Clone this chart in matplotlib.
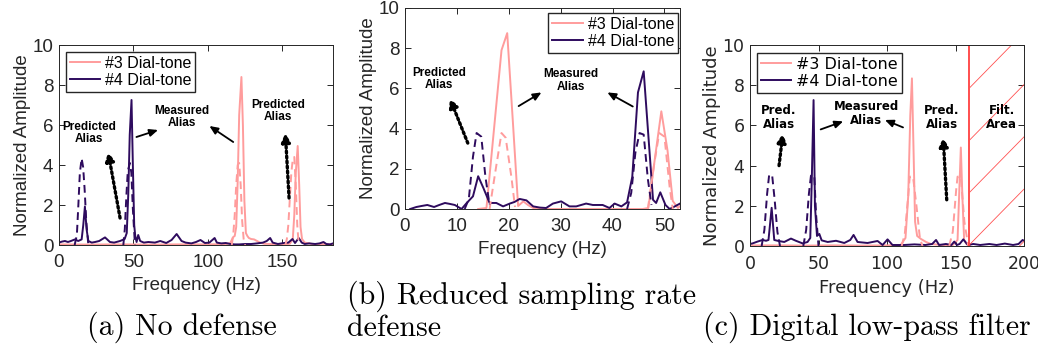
import numpy as np
import matplotlib
matplotlib.use("Agg")
import matplotlib.pyplot as plt

nan = np.nan

# ---- (a) No defense ----
a_f4 = [0, 2, 4, 6, 8, 10.7, 12.9, 15.2, 16.3, 17.4, 18.5, 19.7, 22, 24.2, 27,
        30.9, 34.2, 37, 41, 44.1, 45.5, 46.5, 47.5, 48.7, 49.6, 50.5, 51.2, 52.1,
        53.2, 54.5, 57, 60, 64.4, 68, 72, 75.6, 79, 82.3, 85, 88.9, 92, 95, 98,
        101, 104.5, 106, 109, 112, 115, 118, 121, 125, 129, 133, 137, 139.5,
        141.8, 143.5, 147, 151, 154, 156.8, 158.5, 161, 163, 165, 168, 172, 175,
        177.6, 179.5, 182, 184]
a_y4 = [0.12, 0.17, 0.2, 0.15, 0.2, 0.28, 0.2, 0.28, 1.0, 1.92, 0.8, 0.2, 0.12,
        0.15, 0.2, 0.38, 0.15, 0.12, 0.2, 0.3, 0.6, 2.5, 5.5, 7.25, 4.0, 1.0,
        0.45, 0.15, 0.5, 0.2, 0.12, 0.15, 0.12, 0.2, 0.1, 0.25, 0.55, 0.2, 0.12,
        0.08, 0.15, 0.25, 0.1, 0.12, 0.35, 0.12, 0.08, 0.1, 0.05, 0.03, 0.03,
        0.05, 0.05, 0.08, 0.12, 0.2, 0.35, 0.12, 0.05, 0.1, 0.12, 0.3, 0.1, 0.35,
        0.12, 0.05, 0.08, 0.05, 0.08, 0.15, 0.05, 0.03, 0.08]
a_f4d = [10.5, 12, 13, 14, 15.2, 16.2, 17.2, 18.3, 19.7, nan,
         43.2, 44.2, 45.2, 46.2, 47.6, 48.6, 49.6, 51]
a_y4d = [0, 0.5, 2.0, 3.6, 4.33, 3.9, 2.8, 1.2, 0, nan,
         0, 0.8, 2.4, 3.7, 4.1, 3.6, 1.8, 0]
a_f3 = [0, 20, 40, 60, 80, 100, 112, 115, 116, 117, 118, 119, 120, 121, 122.5,
        123.5, 124.5, 125.5, 126.5, 127.5, 129, 131, 133, 135, 138, 145, 152,
        155, 157, 158, 159, 160.3, 161.3, 162.2, 163.2, 165, 170, 178, 184]
a_y3 = [0.03, 0.02, 0.03, 0.02, 0.03, 0.03, 0.04, 0.1, 0.25, 0.4, 0.45, 0.9,
        3.2, 6.5, 8.4, 6.0, 2.2, 0.6, 0.45, 0.35, 0.3, 0.28, 0.2, 0.12, 0.06,
        0.04, 0.04, 0.06, 0.3, 1.5, 3.6, 4.95, 3.0, 0.9, 0.3, 0.12, 0.05, 0.04,
        0.03]
a_f3d = [116, 117, 118, 119, 120, 121, 122, 123, 124, 125, nan,
         152, 153, 154, 155, 156, 157, 158, 159, 160, 161]
a_y3d = [0, 0.5, 1.5, 3.0, 4.0, 4.1, 3.0, 1.2, 0.3, 0, nan,
         0, 0.3, 1.0, 2.3, 3.6, 4.3, 4.4, 3.0, 1.0, 0]

# ---- (b) Reduced sampling rate defense ----
b_f4 = [1.0, 2.2, 3.2, 4.3, 5.6, 6.6, 7.7, 8.7, 9.6, 10.9, 11.9, 13.1, 14.1,
        15.1, 16.3, 17.6, 18.9, 20.2, 21.1, 22.1, 23.4, 24.7, 26.0, 27.2, 28.5,
        30.1, 31.7, 33.0, 34.9, 36.2, 38.1, 39.4, 40.4, 41.7, 42.8, 43.8, 44.9,
        46.0, 47.8, 48.4, 49.2, 50.2, 51.0, 52.0, 53.0]
b_y4 = [0.0, 0.1, 0.15, 0.2, 0.1, 0.2, 0.3, 0.25, 0.2, 0.0, 0.3, 0.63, 1.63,
        1.05, 0.3, 0.3, 0.13, 0.27, 0.35, 0.5, 0.43, 0.13, 0.07, 0.05, 0.27,
        0.38, 0.13, 0.13, 0.27, 0.2, 0.2, 0.05, 0.27, 0.13, 0.33, 1.6, 5.8,
        6.85, 0.46, 0.3, 0.83, 0.2, 0.0, 0.13, 0.27]
b_f4d = [11.5, 12.3, 13.1, 13.8, 14.7, 15.5, 16.3, nan,
         42.8, 43.6, 44.4, 45.2, 46.0, 46.8, 47.5]
b_y4d = [0.0, 0.5, 2.6, 3.78, 3.6, 1.6, 0.2, nan,
         0.0, 0.8, 2.8, 3.78, 3.7, 1.5, 0.2]
b_f3 = [14.1, 15.7, 17.2, 18.6, 19.7, 20.8, 21.8, 22.8, 23.7, 24.7, 26.0,
        44.7, 45.8, 46.9, 48.1, 49.4, 50.6, 51.6, 52.6, 53.0]
b_y3 = [0.0, 0.05, 4.1, 7.9, 8.75, 4.3, 0.15, 0.38, 0.2, 0.05, 0.0,
        0.0, 0.0, 0.05, 2.4, 4.86, 2.9, 0.4, 0.05, 0.15]
b_f3d = [16.3, 17.5, 18.6, 19.4, 20.5, 21.2, nan,
         46.8, 48.0, 49.0, 50.0, 51.0, 51.6]
b_y3d = [0.0, 2.0, 3.78, 3.55, 1.6, 0.1, nan,
         0.0, 2.2, 3.78, 3.6, 1.1, 0.0]

# ---- (c) Digital low-pass filter ----
c_f4 = [0, 1.9, 5.5, 9.2, 11.7, 13.5, 15.8, 17.7, 20.1, 25.0, 29.9, 33.5, 38.4,
        42.0, 44.0, 45.0, 46.4, 47.4, 48.9, 50.6, 52.3, 56.7, 62.8, 68.8, 73.2,
        75.6, 78.5, 85.8, 93.1, 96.8, 100.4, 104, 112.5, 120, 128, 133, 135.8,
        138, 143, 147, 149.1, 151, 153, 155.7, 159, 163, 168, 174.7, 180, 186,
        192, 196, 199, 200]
c_y4 = [0.1, 0.13, 0.22, 0.3, 0.26, 0.3, 1.9, 0.3, 0.26, 0.2, 0.37, 0.26, 0.13,
        0.2, 0.4, 3.0, 7.26, 2.0, 0.5, 0.6, 0.28, 0.2, 0.26, 0.15, 0.3, 0.55,
        0.2, 0.15, 0.25, 0.05, 0.33, 0.05, 0.05, 0.08, 0.05, 0.1, 0.3, 0.05,
        0.1, 0.05, 0.22, 0.05, 0.1, 0.33, 0.05, 0.1, 0.05, 0.1, 0.05, 0.12,
        0.05, 0.1, 0.3, 0.25]
c_f4d = [8.5, 10.5, 12.5, 14.0, 16.2, 18.0, 20.0, 21.9, nan,
         38.9, 41, 43, 44.5, 46.9, 48.3, 50.0]
c_y4d = [0.0, 0.8, 2.6, 3.55, 3.5, 2.3, 0.7, 0.0, nan,
         0.0, 0.8, 2.6, 3.5, 3.5, 1.5, 0.0]
c_f3 = [0, 20, 40, 60, 80, 100, 110, 113.5, 115.5, 117, 118.2, 119.3, 120.5,
        122.0, 124.8, 128.5, 132, 140, 148, 151.5, 152.8, 153.9, 155.0, 156.3,
        158, 160.5]
c_y3 = [0.03, 0.03, 0.02, 0.03, 0.02, 0.03, 0.05, 0.4, 2.5, 6.5, 8.34, 5.0,
        1.2, 0.5, 0.35, 0.2, 0.1, 0.05, 0.05, 0.3, 2.8, 4.9, 2.5, 0.3, 0.1,
        0.05]
c_f3d = [110.7, 113, 115.5, 116.6, 119.0, 121.5, 124.0, 125.9, nan,
         145.4, 148, 150.5, 151.5, 153.9, 156.5, 159.3]
c_y3d = [0.0, 0.6, 2.5, 3.45, 3.45, 2.0, 0.4, 0.0, nan,
         0.0, 0.7, 2.8, 3.45, 3.45, 1.2, 0.0]
cutoff = 160

PINK = '#FF9C9C'
PURPLE = '#2E0B5E'
DARK = '#262626'

fig = plt.figure(figsize=(10.38, 3.47), dpi=100)


def panel(rect, xlim, xticks, font, tsize, lsize,
          f4, y4, f4d, y4d, f3, y3, f3d, y3d):
    ax = fig.add_axes(rect)
    ax.plot(f3, y3, color=PINK, lw=1.4, label='#3 Dial-tone')
    ax.plot(f4, y4, color=PURPLE, lw=1.4, label='#4 Dial-tone')
    ax.plot(f3d, y3d, color=PINK, lw=1.4, ls=(0, (4, 2.5)))
    ax.plot(f4d, y4d, color=PURPLE, lw=1.4, ls=(0, (4, 2.5)))
    ax.set_xlim(*xlim)
    ax.set_ylim(0, 10)
    ax.set_xticks(xticks)
    ax.set_yticks([0, 2, 4, 6, 8, 10])
    ax.tick_params(direction='in', top=True, right=True, length=4,
                   width=0.7, colors=DARK, labelsize=tsize)
    ax.tick_params(axis='x', pad=6.5)
    ax.tick_params(axis='y', pad=4)
    for lab in ax.get_xticklabels() + ax.get_yticklabels():
        lab.set_family(font)
    for s in ax.spines.values():
        s.set_linewidth(0.7)
        s.set_color(DARK)
    ax.set_xlabel('Frequency (Hz)', fontsize=lsize, family=font, color=DARK,
                  labelpad=4.5)
    ax.set_ylabel('Normalized Amplitude', fontsize=lsize, family=font,
                  color=DARK, labelpad=1)
    return ax


def note(ax, text, xy, font, size):
    ax.text(xy[0], xy[1], text, ha='center', va='center', fontsize=size,
            fontweight='bold', family=font, linespacing=1.1)


def arrow(ax, start, end, dotted=False):
    if dotted:
        props = dict(arrowstyle='-|>,head_length=0.5,head_width=0.25',
                     lw=2.4, ls=(0, (0.6, 0.9)), color='k', shrinkA=0,
                     shrinkB=0)
    else:
        props = dict(arrowstyle='-|>,head_length=0.5,head_width=0.22',
                     lw=1.3, color='k', shrinkA=0, shrinkB=0)
    ax.annotate('', xy=end, xytext=start, arrowprops=props)


def legend(ax, font, **kw):
    ax.legend(prop={'family': font, 'size': 11.5}, handlelength=1.9,
              handletextpad=0.3, labelspacing=0.12, borderpad=0.25,
              borderaxespad=0, fancybox=False, framealpha=1, edgecolor=DARK,
              **kw)


# (a)
axa = panel([59 / 1038, 102 / 347, 274 / 1038, 200 / 347], (0, 184),
            [0, 50, 100, 150], 'Liberation Sans', 13.5, 13.5,
            a_f4, a_y4, a_f4d, a_y4d, a_f3, a_y3, a_f3d, a_y3d)
legend(axa, 'Liberation Sans', loc='upper left', bbox_to_anchor=(0.025, 0.965))
note(axa, 'Predicted\nAlias', (20, 5.6), 'Liberation Sans', 8.5)
note(axa, 'Measured\nAlias', (82.5, 6.4), 'Liberation Sans', 8.5)
note(axa, 'Predicted\nAlias', (147, 6.7), 'Liberation Sans', 8.5)
arrow(axa, (41, 1.35), (33, 4.65), dotted=True)
arrow(axa, (154.5, 2.35), (152, 5.6), dotted=True)
arrow(axa, (52, 5.4), (66.5, 5.75))
arrow(axa, (117, 5.15), (101, 5.95))

# (b)
axb = panel([405 / 1038, 138 / 347, 275 / 1038, 201 / 347], (0, 53),
            [0, 10, 20, 30, 40, 50], 'Liberation Sans', 13.5, 13.5,
            b_f4, b_y4, b_f4d, b_y4d, b_f3, b_y3, b_f3d, b_y3d)
legend(axb, 'Liberation Sans', loc='upper right', bbox_to_anchor=(0.993, 0.975))
note(axb, 'Predicted\nAlias', (6.5, 6.47), 'Liberation Sans', 8.5)
note(axb, 'Measured\nAlias', (32, 6.4), 'Liberation Sans', 8.5)
arrow(axb, (12.1, 3.28), (8.65, 5.5), dotted=True)
arrow(axb, (21.9, 5.12), (26.3, 5.8))
arrow(axb, (43.9, 5.1), (39, 5.8))

# (c)
axc = panel([750 / 1038, 101 / 347, 274 / 1038, 201 / 347], (0, 200),
            [0, 50, 100, 150, 200], 'DejaVu Sans', 12.5, 13,
            c_f4, c_y4, c_f4d, c_y4d, c_f3, c_y3, c_f3d, c_y3d)
legend(axc, 'DejaVu Sans', loc='upper left', bbox_to_anchor=(0.025, 0.96))
axc.axvline(cutoff, color='#FF3030', lw=1.2)
hx = np.array([cutoff, 200])
for k in range(5):
    axc.plot(hx, 7.85 - 2.6 * k + 0.0695 * (hx - cutoff), color='#FF5050',
             lw=0.6)
note(axc, 'Pred.\nAlias', (21.2, 6.37), 'DejaVu Sans', 8.5)
note(axc, 'Measured\nAlias', (85, 6.6), 'DejaVu Sans', 8.5)
note(axc, 'Pred.\nAlias', (140, 6.37), 'DejaVu Sans', 8.5)
note(axc, 'Filt.\nArea', (183.7, 6.4), 'DejaVu Sans', 8.5)
arrow(axc, (21.2, 4.0), (24, 5.6), dotted=True)
arrow(axc, (143.6, 2.3), (141, 5.4), dotted=True)
arrow(axc, (51.6, 5.8), (68, 6.2))
arrow(axc, (111.7, 5.9), (98.5, 6.27))

# captions
cap = dict(family='cmr10', fontsize=21.5, va='baseline')
fig.text(182 / 1038, 1 - 335 / 347, '(a) No defense', ha='center', **cap)
fig.text(347 / 1038, 1 - 304 / 347, '(b) Reduced sampling rate', ha='left', **cap)
fig.text(347 / 1038, 1 - 336 / 347, 'defense', ha='left', **cap)
fig.text(867 / 1038, 1 - 335 / 347, '(c) Digital low-pass filter', ha='center', **cap)

fig.savefig('out.png', dpi=100)
